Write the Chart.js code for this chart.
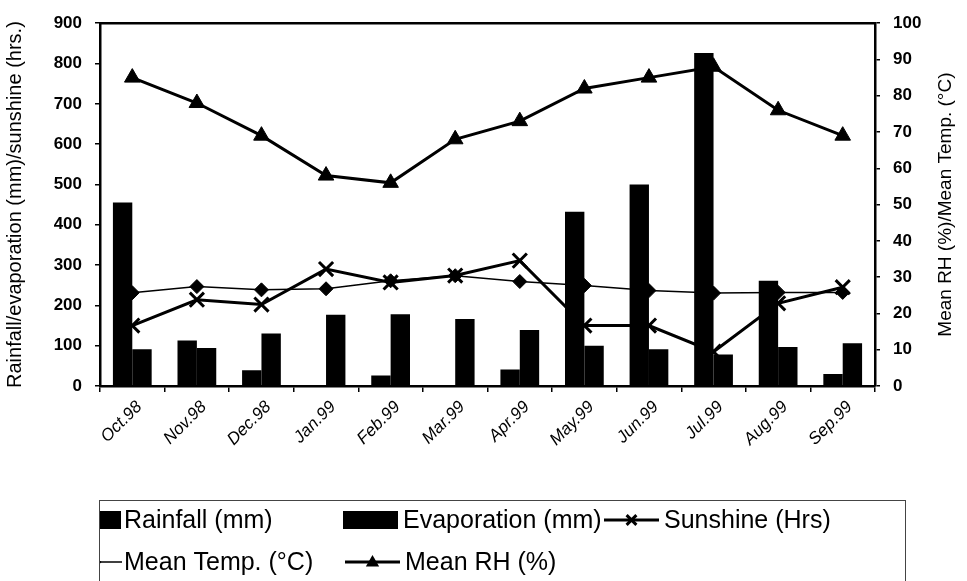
<!DOCTYPE html>
<html>
<head>
<meta charset="utf-8">
<script src="https://cdn.jsdelivr.net/npm/chart.js@4.4.1/dist/chart.umd.min.js"></script>
<style>
  html, body { margin: 0; padding: 0; background: #fff; }
</style>
</head>
<body>
<canvas id="climate-chart" width="967" height="581"></canvas>
<script>
const months = ['Oct.98', 'Nov.98', 'Dec.98', 'Jan.99', 'Feb.99', 'Mar.99',
                'Apr.99', 'May.99', 'Jun.99', 'Jul.99', 'Aug.99', 'Sep.99'];
const rainfall    = [455, 113, 39, 0, 26, 0, 41, 432, 500, 826, 261, 30];
const evaporation = [91, 94, 130, 177, 178, 166, 139, 100, 91, 78, 97, 106];
const sunshine    = [150, 214, 202, 290, 257, 274, 311, 150, 150, 85, 205, 245];
const meanTemp    = [25.7, 27.4, 26.5, 26.8, 29.0, 30.4, 28.8, 27.7, 26.3, 25.6, 25.8, 25.8];
const meanRH      = [85, 78, 69, 58, 56, 68, 73, 82, 85, 88, 76, 69];

const leftRange = [0, 900, 100];
const rightRange = [0, 100, 10];
const rightTitle = 'Mean RH (%)/Mean Temp. (°C)';

const FONT = "'Liberation Sans', Arial, sans-serif";

// draws the small marker shapes used in the legend
function drawMarker(ctx, style, x, y, r) {
    ctx.beginPath();
    if (style === 'triangle') {
        ctx.moveTo(x, y - r);
        ctx.lineTo(x + r * 0.95, y + r * 0.65);
        ctx.lineTo(x - r * 0.95, y + r * 0.65);
        ctx.closePath();
        ctx.fill();
    } else if (style === 'rectRot') {
        ctx.moveTo(x, y - r);
        ctx.lineTo(x + r, y);
        ctx.lineTo(x, y + r);
        ctx.lineTo(x - r, y);
        ctx.closePath();
        ctx.fill();
    } else if (style === 'crossRot') {
        ctx.moveTo(x - r * 0.7, y - r * 0.7);
        ctx.lineTo(x + r * 0.7, y + r * 0.7);
        ctx.moveTo(x + r * 0.7, y - r * 0.7);
        ctx.lineTo(x - r * 0.7, y + r * 0.7);
        ctx.stroke();
    }
}

const frameAndLegend = {
    id: 'frameAndLegend',
    afterDatasetsDraw(chart) {
        const { ctx, chartArea } = chart;
        ctx.save();
        ctx.strokeStyle = '#000';
        ctx.lineWidth = 2.5;
        ctx.beginPath();
        ctx.moveTo(chartArea.left, chartArea.top);
        ctx.lineTo(chartArea.right, chartArea.top);
        ctx.stroke();
        ctx.restore();
    },
    afterDraw(chart) {
        const ctx = chart.ctx;
        const sets = chart.data.datasets;
        const area = chart.chartArea;

        // right axis title, read bottom-to-top like the left one
        ctx.save();
        ctx.translate(946, (area.top + area.bottom) / 2);
        ctx.rotate(-Math.PI / 2);
        ctx.fillStyle = '#000';
        ctx.font = '19px ' + FONT;
        ctx.textAlign = 'center';
        ctx.textBaseline = 'middle';
        ctx.fillText(rightTitle, 0, 0);
        ctx.restore();

        ctx.save();
        ctx.strokeStyle = '#444';
        ctx.lineWidth = 1;
        ctx.strokeRect(99.5, 500.5, 806, 100);
        ctx.beginPath();
        ctx.rect(100, 501, 805, 80);
        ctx.clip();

        // [symbol x, text x, y]
        const slots = [[66, 124, 520], [343, 403, 520], [604, 664, 520],
                       [67, 124, 562], [345, 405, 562]];
        ctx.fillStyle = '#000';
        ctx.strokeStyle = '#000';
        ctx.font = '25px ' + FONT;
        ctx.textBaseline = 'middle';
        sets.forEach(function (ds, i) {
            const [x, tx, y] = slots[i];
            if (ds.type === 'bar') {
                ctx.fillRect(x, y - 9, 55, 18);
            } else {
                ctx.lineWidth = ds.borderWidth;
                ctx.beginPath();
                ctx.moveTo(x, y);
                ctx.lineTo(x + 55, y);
                ctx.stroke();
                ctx.lineWidth = 3;
                drawMarker(ctx, ds.pointStyle, x + 27.5, y, 7);
            }
            ctx.fillText(ds.label, tx, y + 1);
        });
        ctx.restore();
    }
};

const ctx = document.getElementById('climate-chart').getContext('2d');

new Chart(ctx, {
    data: {
        labels: months,
        datasets: [{
            type: 'bar',
            label: 'Rainfall (mm)',
            data: rainfall,
            backgroundColor: '#000',
            yAxisID: 'y',
            order: 0,
            categoryPercentage: 0.6,
            barPercentage: 1.0
        }, {
            type: 'bar',
            label: 'Evaporation (mm)',
            data: evaporation,
            backgroundColor: '#000',
            yAxisID: 'y',
            order: 0,
            categoryPercentage: 0.6,
            barPercentage: 1.0
        }, {
            type: 'line',
            label: 'Sunshine (Hrs)',
            data: sunshine,
            borderColor: '#000',
            backgroundColor: '#000',
            borderWidth: 3,
            pointStyle: 'crossRot',
            pointRadius: 10,
            pointBorderWidth: 3,
            yAxisID: 'y',
            order: 1
        }, {
            type: 'line',
            label: 'Mean Temp. (°C)',
            data: meanTemp,
            borderColor: '#000',
            backgroundColor: '#000',
            borderWidth: 1.5,
            pointStyle: 'rectRot',
            pointRadius: 7,
            pointBorderWidth: 1,
            yAxisID: 'y1',
            order: 1
        }, {
            type: 'line',
            label: 'Mean RH (%)',
            data: meanRH,
            borderColor: '#000',
            backgroundColor: '#000',
            borderWidth: 3,
            pointStyle: 'triangle',
            pointRadius: 9,
            pointBorderWidth: 1,
            yAxisID: 'y1',
            order: 1
        }]
    },
    options: {
        responsive: false,
        animation: false,
        layout: { padding: { top: 22, bottom: 95, left: 0, right: 0 } },
        plugins: {
            legend: { display: false },
            tooltip: { enabled: false }
        },
        scales: {
            x: {
                offset: true,
                grid: { drawOnChartArea: false, color: '#000', lineWidth: 1.5, tickLength: 6 },
                border: { color: '#000', width: 2.5 },
                ticks: {
                    color: '#000',
                    font: { family: FONT, size: 17, style: 'italic' },
                    minRotation: 45,
                    maxRotation: 45,
                    padding: 5,
                    labelOffset: 7
                },
                afterFit: function (scale) { scale.height = 100; }
            },
            y: {
                position: 'left',
                min: leftRange[0],
                max: leftRange[1],
                grid: { drawOnChartArea: false, color: '#000', lineWidth: 1.5, tickLength: 5 },
                border: { color: '#000', width: 2.5 },
                ticks: {
                    stepSize: leftRange[2],
                    color: '#000',
                    padding: 13,
                    font: { family: FONT, size: 17, weight: 'bold' }
                },
                title: {
                    display: true,
                    text: 'Rainfall/evaporation (mm)/sunshine (hrs.)',
                    color: '#000',
                    font: { family: FONT, size: 20 },
                    padding: { top: 3, bottom: 0 }
                },
                afterFit: function (scale) { scale.width = 100; }
            },
            y1: {
                position: 'right',
                min: rightRange[0],
                max: rightRange[1],
                grid: { drawOnChartArea: false, color: '#000', lineWidth: 1.5, tickLength: 5 },
                border: { color: '#000', width: 2.5 },
                ticks: {
                    stepSize: rightRange[2],
                    color: '#000',
                    padding: 13,
                    font: { family: FONT, size: 17, weight: 'bold' }
                },
                afterFit: function (scale) { scale.width = 92; }
            }
        }
    },
    plugins: [frameAndLegend]
});
</script>
</body>
</html>
